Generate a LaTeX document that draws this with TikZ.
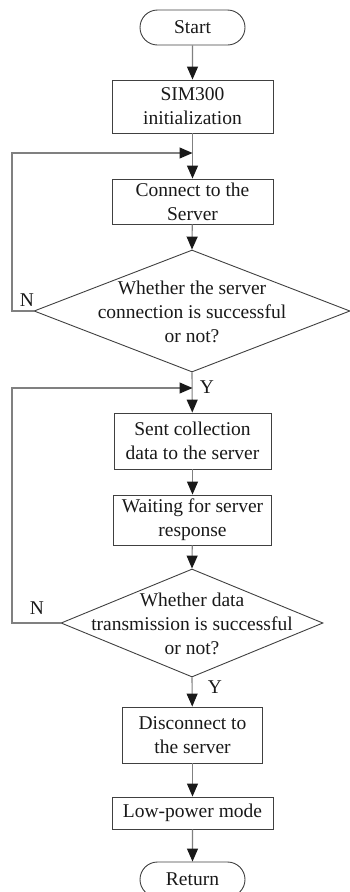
\documentclass[tikz,border=0pt]{standalone}
\usepackage{fontspec}
\setmainfont{Liberation Serif}
\usetikzlibrary{shapes.geometric,shapes.misc,arrows.meta}
\begin{document}
\begin{tikzpicture}[x=1pt,y=-1pt,
  every node/.style={font=\fontsize{19.5}{24}\selectfont, text=black!90},
  proc/.style={draw=black!75, line width=0.9pt, rectangle, inner sep=0pt, align=center},
  term/.style={draw=black!75, line width=0.9pt, rounded rectangle, inner sep=0pt, minimum width=105pt, minimum height=35pt},
  decis/.style={draw=black!75, line width=0.9pt, diamond, inner sep=0pt},
  lbl/.style={align=center, inner sep=0pt},
  arr/.style={draw=black!50, line width=1.1pt, -{Triangle[length=13pt,width=11pt,fill=black!90,color=black!90]}},
  ln/.style={draw=black!50, line width=1.1pt}
]
\useasboundingbox (0,0) rectangle (349,892);
\node[term] (start) at (192.5,27.5) {Start};
\node[proc, minimum width=161pt, minimum height=53pt] (sim) at (192.5,106.5) {SIM300\\initialization};
\node[proc, minimum width=161pt, minimum height=45pt] (conn) at (192.5,201.5) {Connect to the\\Server};
\node[decis, minimum width=316pt, minimum height=122pt] (d1) at (192,311) {};
\node[lbl] (d1t) at (192,312) {Whether the server\\connection is successful\\or not?};
\node[proc, minimum width=157pt, minimum height=56pt] (sent) at (192.5,441) {Sent collection\\data to the server};
\node[proc, minimum width=158pt, minimum height=50pt] (wait) at (192.5,520) {Waiting for server\\response};
\node[decis, minimum width=262pt, minimum height=108pt] (d2) at (192,623) {};
\node[lbl] (d2t) at (192,624) {Whether data\\transmission is successful\\or not?};
\node[proc, minimum width=140pt, minimum height=56pt] (disc) at (192.5,735) {Disconnect to\\the server};
\node[proc, minimum width=161pt, minimum height=32pt] (low) at (192.5,813) {Low-power mode};
\node[term] (ret) at (192.5,879.5) {Return};

\coordinate (j1) at (192.5,153);
\coordinate (j2) at (192.5,388);

\draw[arr] (start) -- (sim);
\draw[arr] (sim) -- (conn);
\draw[arr] (conn) -- (d1.north);
\draw[arr] (d1.south) -- (sent);
\draw[arr] (sent) -- (wait);
\draw[arr] (wait) -- (d2.north);
\draw[arr] (d2.south) -- (disc);
\draw[arr] (disc) -- (low);
\draw[arr] (low) -- (ret);

\draw[arr] (d1.west) -- (12,311) |- (j1);
\draw[arr] (d2.west) -- (12,623) |- (j2);

\node[lbl] (n1) at (27,300) {N};
\node[lbl] (n2) at (37,608) {N};
\node[lbl] (y1) at (207,387) {Y};
\node[lbl] (y2) at (215,687) {Y};
\end{tikzpicture}
\end{document}
